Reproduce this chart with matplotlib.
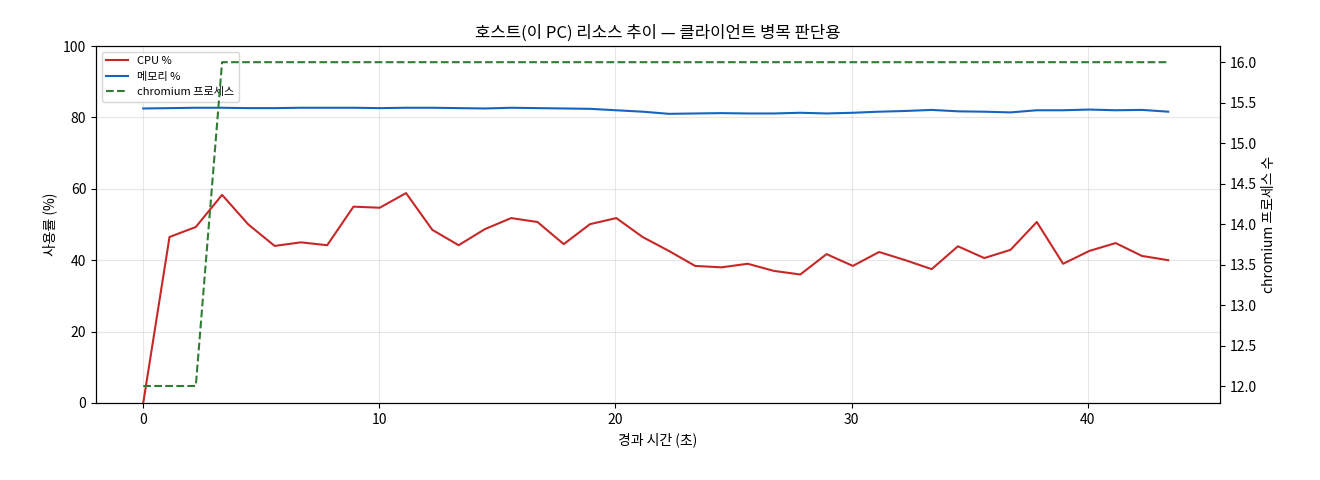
import matplotlib
matplotlib.use("Agg")
import matplotlib.pyplot as plt
import numpy as np

plt.rcParams['font.family'] = ['Noto Sans CJK KR', 'DejaVu Sans']

dt = 1.113
cpu = [0, 46.5, 49.3, 58.3, 50, 44, 45, 44.2, 55, 54.7, 58.8, 48.5, 44.2, 48.7, 51.8, 50.7,
       44.5, 50.1, 51.8, 46.5, 42.6, 38.4, 38, 39, 37, 36, 41.7, 38.4, 42.3, 40, 37.5, 43.9,
       40.6, 42.9, 50.7, 39, 42.6, 44.8, 41.2, 40]
mem = [82.5, 82.6, 82.7, 82.7, 82.6, 82.6, 82.7, 82.7, 82.7, 82.6, 82.7, 82.7, 82.6, 82.5, 82.7, 82.6,
       82.5, 82.4, 82.0, 81.6, 81.0, 81.1, 81.2, 81.1, 81.1, 81.3, 81.1, 81.3, 81.6, 81.8, 82.1, 81.7,
       81.6, 81.4, 82.0, 82.0, 82.2, 82.0, 82.1, 81.6]
chrom = [12, 12, 12] + [16] * 37
t = np.arange(len(cpu)) * dt

fig = plt.figure(figsize=(13.2, 4.8), dpi=100)
ax = fig.add_axes([96/1320, 1-403/480, (1220-96)/1320, (403-46)/480])
l1, = ax.plot(t, cpu, color='#c62828', lw=1.5, label='CPU %')
l2, = ax.plot(t, mem, color='#1565c0', lw=1.5, label='메모리 %')
ax.set_ylim(0, 100)
ax.set_xlim(-2, 45.6)
ax.grid(True, alpha=0.3)
ax.set_xlabel('경과 시간 (초)')
ax.set_ylabel('사용률 (%)')
ax.set_title('호스트(이 PC) 리소스 추이 — 클라이언트 병목 판단용')
ax2 = ax.twinx()
l3, = ax2.plot(t, chrom, color='#2e7d32', lw=1.5, ls='--', label='chromium 프로세스')
ax2.set_ylim(11.79, 16.2)
ax2.set_ylabel('chromium 프로세스 수')
ax.legend(handles=[l1, l2, l3], loc='upper left', fontsize=8)
fig.savefig('out.png', dpi=100)
